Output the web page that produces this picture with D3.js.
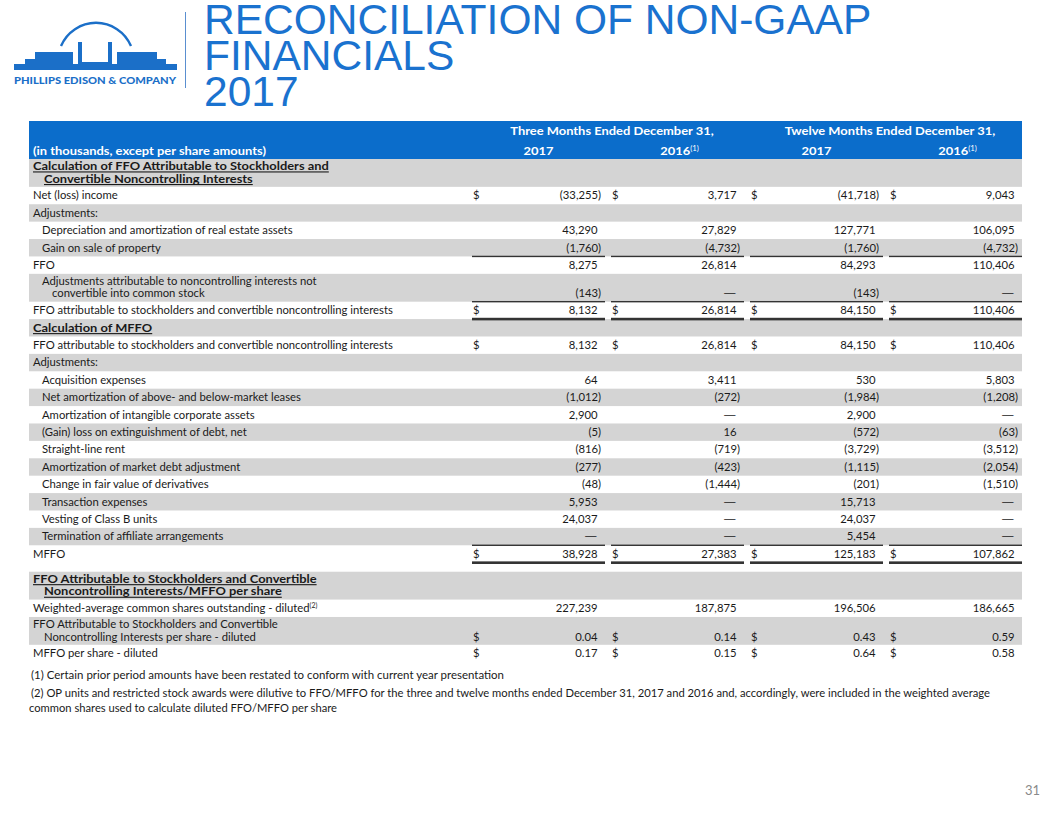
<!DOCTYPE html>
<html><head><meta charset="utf-8">
<script src="https://cdn.jsdelivr.net/npm/d3@7"></script>
<style>body{margin:0;background:#fff}svg{display:block}</style>
</head><body><svg id="c" width="1056" height="816"></svg>
<script>
// ---------- DATA ----------
const titleLines = ["RECONCILIATION OF NON-GAAP", "FINANCIALS", "2017"];
const companyName = "PHILLIPS EDISON & COMPANY";
const unitsLabel = "(in thousands, except per share amounts)";
const periodGroups = ["Three Months Ended December 31,", "Twelve Months Ended December 31,"];
const columns = ["Q2017", "Q2016", "Y2017", "Y2016"];
const columnYears = ["2017", "2016", "2017", "2016"];
const columnNotes = ["", "(1)", "", "(1)"];

const labels = [
  ["Calculation of FFO Attributable to Stockholders and", "Convertible Noncontrolling Interests"],
  ["Net (loss) income"],
  ["Adjustments:"],
  ["Depreciation and amortization of real estate assets"],
  ["Gain on sale of property"],
  ["FFO"],
  ["Adjustments attributable to noncontrolling interests not", "convertible into common stock"],
  ["FFO attributable to stockholders and convertible noncontrolling interests"],
  ["Calculation of MFFO"],
  ["FFO attributable to stockholders and convertible noncontrolling interests"],
  ["Adjustments:"],
  ["Acquisition expenses"],
  ["Net amortization of above- and below-market leases"],
  ["Amortization of intangible corporate assets"],
  ["(Gain) loss on extinguishment of debt, net"],
  ["Straight-line rent"],
  ["Amortization of market debt adjustment"],
  ["Change in fair value of derivatives"],
  ["Transaction expenses"],
  ["Vesting of Class B units"],
  ["Termination of affiliate arrangements"],
  ["MFFO"],
  [],
  ["FFO Attributable to Stockholders and Convertible", "Noncontrolling Interests/MFFO per share"],
  ["Weighted-average common shares outstanding - diluted"],
  ["FFO Attributable to Stockholders and Convertible", "Noncontrolling Interests  per share - diluted"],
  ["MFFO per share - diluted"]
];
const labelNotes = {24: "(2)"};

// null = blank cell, 0 = dash
const q2017 = [null, -33255, null, 43290, -1760, 8275, -143, 8132, null, 8132, null, 64, -1012, 2900, -5, -816, -277, -48, 5953, 24037, 0, 38928, null, null, 227239, 0.04, 0.17];
const q2016 = [null, 3717, null, 27829, -4732, 26814, 0, 26814, null, 26814, null, 3411, -272, 0, 16, -719, -423, -1444, 0, 0, 0, 27383, null, null, 187875, 0.14, 0.15];
const y2017 = [null, -41718, null, 127771, -1760, 84293, -143, 84150, null, 84150, null, 530, -1984, 2900, -572, -3729, -1115, -201, 15713, 24037, 5454, 125183, null, null, 196506, 0.43, 0.64];
const y2016 = [null, 9043, null, 106095, -4732, 110406, 0, 110406, null, 110406, null, 5803, -1208, 0, -63, -3512, -2054, -1510, 0, 0, 0, 107862, null, null, 186665, 0.59, 0.58];

const dollarRows = [1, 7, 9, 21, 25, 26];
const perShareRows = [25, 26];

const footnotes = [
  "(1)  Certain prior period amounts have been restated to conform with current year presentation",
  "(2)  OP units and restricted stock awards were dilutive to FFO/MFFO for the three and twelve months ended December 31, 2017 and 2016 and, accordingly, were included in the weighted average",
  "common shares used to calculate diluted FFO/MFFO per share"
];
const pageNumber = "31";

// ---------- LAYOUT / STYLE ----------
// type: S section header, T top-level line, I indented line, X spacer
const rowType = ["S","T","T","I","I","T","I","T","S","T","T","I","I","I","I","I","I","I","I","I","I","T","X","S","T","T","T"];
const rowGray = [1,0,1,0,1,0,1,0,1,0,1,0,1,0,1,0,1,0,1,0,1,0,0,1,0,1,0];
const rowRule = {4:"single", 6:"single", 7:"double", 20:"single", 21:"double"};

const BLUE = "#0b6dcb", TITLE_BLUE = "#1a72cf", GRAY = "#d4d4d4", INK = "#1a1a1a", RULE = "#333";
const bodyFont = "Lato, 'Noto Sans', sans-serif";
const FS = 11.4, FSB = 11.8;

const svg = d3.select("#c");

// ---------- LOGO ----------
const logo = svg.append("g").attr("fill", "#1b6fc8");
logo.append("rect").attr("x",14).attr("y",64).attr("width",163).attr("height",6);
logo.append("path").attr("d","M25,64V59H35V52H73V64Z");
logo.append("path").attr("d","M166,64V59H157V52H117V64Z");
logo.append("rect").attr("x",78).attr("y",42).attr("width",4).attr("height",23);
logo.append("rect").attr("x",108).attr("y",42).attr("width",4).attr("height",23);
logo.append("rect").attr("x",82).attr("y",62).attr("width",26).attr("height",3);
logo.append("path").attr("d","M61,46 A38,38 0 0 1 131,46").attr("fill","none").attr("stroke","#1b6fc8").attr("stroke-width",2.4);
logo.append("text").attr("x",14).attr("y",84).attr("font-family","Lato, sans-serif").attr("font-weight","900")
  .attr("font-size",9.6).attr("textLength",162).attr("lengthAdjust","spacingAndGlyphs").text(companyName);
svg.append("line").attr("x1",185.5).attr("x2",185.5).attr("y1",12).attr("y2",88).attr("stroke","#5a8fd0").attr("stroke-width",1);

// ---------- TITLE ----------
svg.append("g").selectAll("text").data(titleLines).join("text")
  .attr("x",204).attr("y",(d,i)=>34+i*36)
  .attr("font-family","'Liberation Sans', Arial, sans-serif").attr("font-size",42.5)
  .attr("fill",TITLE_BLUE).text(d=>d);

// ---------- SCALES ----------
const x = d3.scaleBand().domain(columns).range([472,1022]).paddingInner(6/139).paddingOuter(0);
const rowUnits = rowType.map((t,i)=> t==="X" ? 0.52 : (labels[i].length>1 ? 1.6 : 1));
const cum = [0]; rowUnits.forEach(u=>cum.push(cum[cum.length-1]+u));
const ROWPX = 17.4;
const y = d3.scaleLinear().domain([0, cum[cum.length-1]]).range([159, 159 + cum[cum.length-1]*ROWPX]);
const tableLeft = 29, tableRight = 1022;

// horizontal fit factors so the humanist font matches the original face widths
function measure(str, size, bold) {
  const p = svg.append("text").attr("font-family",bodyFont).attr("font-size",size).attr("font-weight",bold?"700":"400").text(str);
  const w = p.node().getComputedTextLength(); p.remove(); return w;
}
const SX = 360 / measure(labels[7][0], FS, false);
const SXB = 296 / measure(labels[0][0], FSB, true);
const SXH = 233 / measure(unitsLabel, FSB, true);

function txt(g, px, py, str, o={}) {
  const t = g.append("text")
    .attr("transform", `translate(${px},${py}) scale(${o.sx ?? (o.bold ? SXB : SX)},1)`)
    .attr("font-family", bodyFont).attr("font-size", o.size || (o.bold ? FSB : FS))
    .attr("font-weight", o.bold ? "700" : "400")
    .attr("fill", o.fill || INK).attr("text-anchor", o.anchor || "start");
  t.text(str);
  if (o.note) {
    t.append("tspan").attr("font-size", (o.size||FS)*0.62).attr("font-weight","400").attr("dy", -4).text(o.note);
  }
  return t;
}

// ---------- HEADER BAND ----------
const head = svg.append("g");
head.append("rect").attr("x",tableLeft).attr("y",121).attr("width",tableRight-tableLeft).attr("height",38).attr("fill",BLUE);
periodGroups.forEach((p,gi)=>{
  const a = x(columns[gi*2]), b = x(columns[gi*2+1]) + x.bandwidth();
  txt(head, (a+b)/2 + 4, 134.5, p, {bold:true, sx:SXH, fill:"#fff", anchor:"middle"});
});
columns.forEach((c,i)=>{
  txt(head, x(c) + x.bandwidth()/2 + (columnNotes[i] ? 2 : 0), 154.5, columnYears[i], {bold:true, sx:SXH, fill:"#fff", anchor:"middle", note: columnNotes[i]});
});
txt(head, 33, 154.5, unitsLabel, {bold:true, sx:SXH, fill:"#fff"});

// ---------- BODY ----------
const body = svg.append("g");
const series = [q2017, q2016, y2017, y2016];
const fmtInt = d3.format(",");
const fmtPS = d3.format(".2f");

rowType.forEach((t,i)=>{
  const top = y(cum[i]), bot = y(cum[i+1]);
  if (rowGray[i]) body.append("rect").attr("x",tableLeft).attr("y",top).attr("width",tableRight-tableLeft).attr("height",bot-top).attr("fill",GRAY);
});

rowType.forEach((t,i)=>{
  if (t==="X") return;
  const top = y(cum[i]), bot = y(cum[i+1]);
  const lines = labels[i];
  const two = lines.length > 1;
  const base1 = two ? top + 11 : top + 12.6;
  const base2 = top + 23.6;
  const x1 = t==="I" ? 42 : 33;
  const x2 = t==="I" ? 52 : 44;
  lines.forEach((ln,li)=>{
    const tx = li===0 ? x1 : x2, ty = li===0 ? base1 : base2;
    const el = txt(body, tx, ty, ln, {bold: t==="S", note: li===lines.length-1 ? labelNotes[i] : undefined});
    if (t==="S") {
      const w = el.node().getComputedTextLength()*SXB;
      body.append("rect").attr("x",tx).attr("y",ty+1.4).attr("width",w).attr("height",1.1).attr("fill",INK);
    }
  });
  const vb = two ? base2 : base1;
  columns.forEach((c,ci)=>{
    const v = series[ci][i];
    if (v === null || v === undefined) return;
    const endX = x(c) + x.bandwidth() - 7.5;
    if (dollarRows.includes(i)) txt(body, x(c)+1, vb, "$");
    if (v === 0) {
      txt(body, endX, vb, "\u2014", {anchor:"end", sx:1.5});
      return;
    }
    const f = perShareRows.includes(i) ? fmtPS : fmtInt;
    const s = v < 0 ? "(" + f(-v) + ")" : f(v);
    txt(body, v < 0 ? endX + 3.6 : endX, vb, s, {anchor:"end"});
  });
  if (rowRule[i]) {
    const h = rowRule[i]==="double" ? 2.6 : 1.4;
    columns.forEach(c=>{
      body.append("rect").attr("x",x(c)).attr("y",bot - h/2).attr("width",x.bandwidth()).attr("height",h).attr("fill",RULE);
    });
  }
});

// ---------- FOOTNOTES ----------
const foot = svg.append("g");
const footPos = [[31,679,473],[31,697,959],[29,712,308]];
footnotes.forEach((f,i)=>{
  foot.append("text").attr("x",footPos[i][0]).attr("y",footPos[i][1])
    .attr("font-family",bodyFont).attr("font-size",10.6).attr("fill",INK)
    .attr("textLength",footPos[i][2]).attr("lengthAdjust","spacingAndGlyphs").text(f);
});

svg.append("text").attr("x",1040).attr("y",795).attr("text-anchor","end")
  .attr("font-family",bodyFont).attr("font-size",13).attr("fill","#8a8a8a").text(pageNumber);
</script></body></html>
